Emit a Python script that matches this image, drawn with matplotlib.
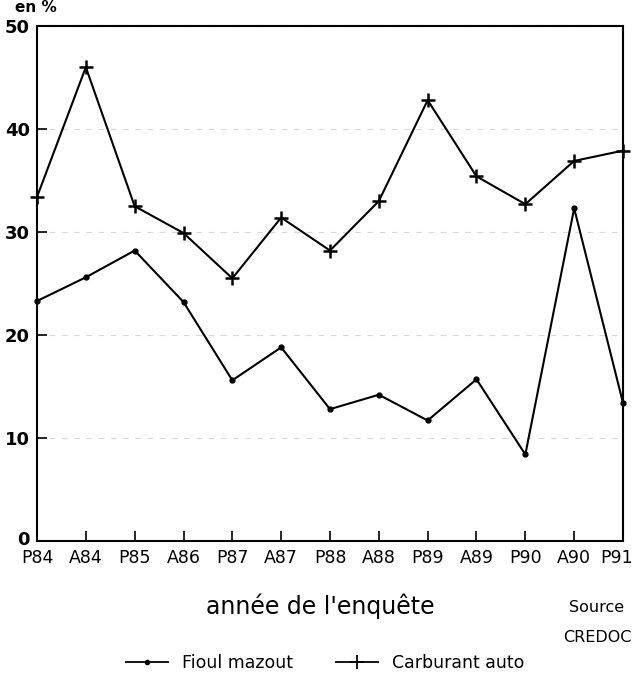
import matplotlib
matplotlib.use('Agg')
from matplotlib import pyplot as plt
from matplotlib.lines import Line2D
from matplotlib.transforms import ScaledTranslation

# enquêtes (printemps / automne)
periodes = ['P84', 'A84', 'P85', 'A86', 'P87', 'A87', 'P88',
            'A88', 'P89', 'A89', 'P90', 'A90', 'P91']
fioul = [23.3, 25.6, 28.2, 23.2, 15.6, 18.8, 12.8,
         14.2, 11.7, 15.7, 8.4, 32.3, 13.4]
carburant = [33.4, 46.0, 32.5, 29.9, 25.5, 31.4, 28.2,
             33.0, 42.8, 35.4, 32.7, 36.9, 37.9]
yticks = [0, 10, 20, 30, 40, 50]

W, H = 632, 685
fig = plt.figure(figsize=(W / 100, H / 100), dpi=100)
ax = fig.add_axes([37 / W, 1 - 541 / H, (623 - 37) / W, (541 - 26) / H])

x = list(range(len(periodes)))
ax.plot(x, fioul, color='black', lw=1.5, marker='o', ms=3.5,
        clip_on=False)
ax.plot(x, carburant, color='black', lw=1.5, marker='+', ms=10, mew=1.8,
        clip_on=False)

ax.set_xlim(0, len(periodes) - 1)
ax.set_ylim(0, 50)
ax.set_xticks(x)
ax.set_xticklabels(periodes)
ax.set_yticks(yticks)
ax.tick_params(axis='both', direction='in', length=7, width=1.2,
               colors='black')
ax.tick_params(axis='x', pad=6, labelsize=12.5)
ax.tick_params(axis='y', pad=5, labelsize=13)
for lab in ax.get_yticklabels():
    lab.set_fontweight('bold')
# petit décalage du "0" et du dernier libellé comme sur l'original
ylabs = ax.get_yticklabels()
ylabs[0].set_transform(ylabs[0].get_transform() +
                       ScaledTranslation(0, 3 / 100, fig.dpi_scale_trans))
xlabs = ax.get_xticklabels()
xlabs[-1].set_transform(xlabs[-1].get_transform() +
                        ScaledTranslation(-6 / 100, 0, fig.dpi_scale_trans))

ax.yaxis.grid(True, ls=(0, (5, 6)), color='0.85', lw=0.8)
ax.set_axisbelow(True)
for sp in ax.spines.values():
    sp.set_linewidth(1.5)

fig.text(15 / W, 1 - 8 / H, 'en %', fontsize=11, fontweight='bold',
         ha='left', va='center')
fig.text(320 / W, 1 - 606 / H, "année de l'enquête", fontsize=17,
         ha='center', va='center')
fig.text(597 / W, 1 - 608 / H, 'Source', fontsize=11.5,
         ha='center', va='center')
fig.text(597 / W, 1 - 637 / H, 'CREDOC', fontsize=11.5,
         ha='center', va='center')

handles = [
    Line2D([], [], color='black', lw=1.3, marker='o', ms=3),
    Line2D([], [], color='black', lw=1.3, marker='+', ms=10, mew=1.3),
]
fig.legend(handles, ['Fioul mazout', 'Carburant auto'], ncol=2,
           frameon=False, fontsize=12.5, handlelength=2.4,
           columnspacing=2.5, loc='center', bbox_to_anchor=(325 / W, 1 - 663 / H))

fig.savefig('out.png', dpi=100, facecolor='white')
